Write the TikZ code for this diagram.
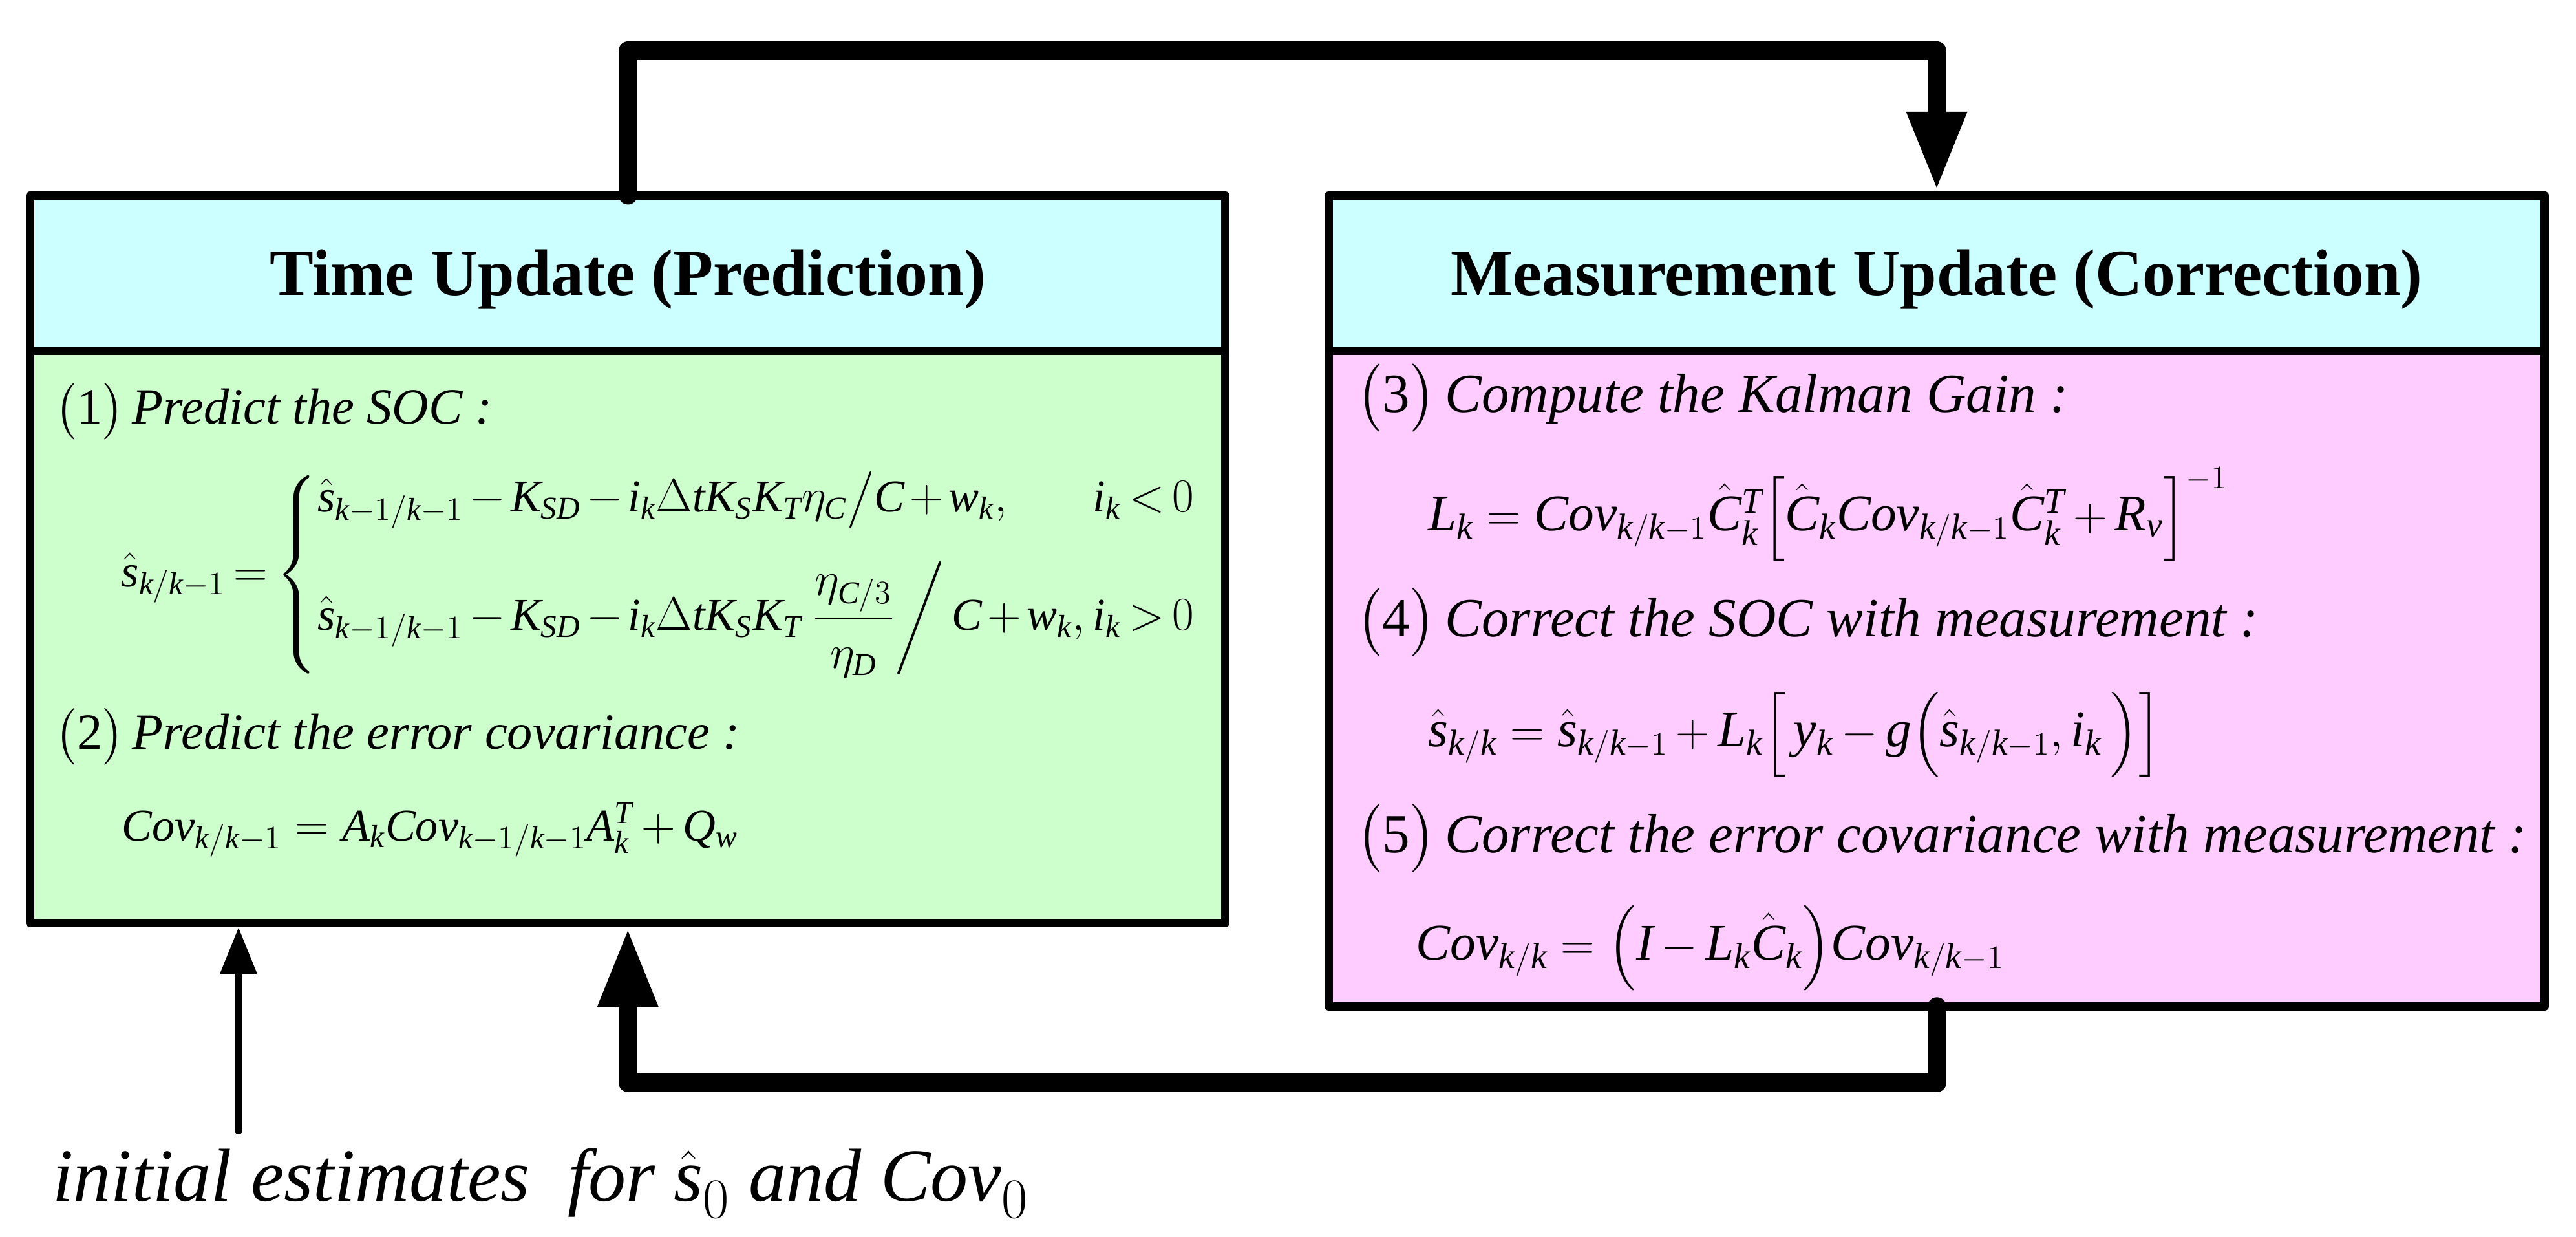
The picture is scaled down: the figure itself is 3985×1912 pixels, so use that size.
\documentclass[tikz,border=0pt]{standalone}
\usepackage{amsmath}
\usepackage{fontspec}
\setmainfont{Liberation Serif}[ItalicFont={Liberation Serif Italic},BoldFont={Liberation Serif Bold}]
\DeclareSymbolFont{tmit}{TU}{\rmdefault}{m}{it}
\DeclareSymbolFont{tmup}{TU}{\rmdefault}{m}{n}
\newcount\lcnt
\lcnt=65 \loop \Umathcode\lcnt="7 \symtmit \lcnt \advance\lcnt 1 \ifnum\lcnt<91 \repeat
\lcnt=97 \loop \Umathcode\lcnt="7 \symtmit \lcnt \advance\lcnt 1 \ifnum\lcnt<123 \repeat
\lcnt=48 \loop \Umathcode\lcnt="7 \symtmup \lcnt \advance\lcnt 1 \ifnum\lcnt<58 \repeat
\medmuskip=3mu plus 1mu minus 1mu\relax
\usetikzlibrary{arrows.meta}
\definecolor{hdrc}{HTML}{CCFFFF}
\definecolor{grnc}{HTML}{CCFFCC}
\definecolor{pnkc}{HTML}{FFCCFF}
\newcommand{\cv}{\mathit{Cov}}
\newcommand{\stepno}[1]{$\bigl($#1$\bigr)$\,}
\begin{document}
\begin{tikzpicture}[x=0.01cm,y=-0.01cm,
  boxst/.style={draw, line width=0.13cm, rectangle, inner sep=0pt, line join=round},
  ttl/.style={font=\fontsize{28.9}{34}\selectfont\bfseries, text height=0.813cm, text depth=0.142cm},
  txl/.style={anchor=base west, inner sep=0pt, font=\fontsize{22.3}{27}\selectfont},
  eql/.style={anchor=base west, inner sep=0pt, font=\fontsize{20}{24}\selectfont},
  txr/.style={anchor=base west, inner sep=0pt, font=\fontsize{24.2}{29}\selectfont},
  eqr/.style={anchor=base west, inner sep=0pt, font=\fontsize{22.6}{27}\selectfont},
  txi/.style={anchor=base west, inner sep=0pt, font=\fontsize{33}{39}\selectfont},
  bigarrow/.style={line width=0.29cm, line cap=round, line join=round, -{Triangle[length=1.23cm,width=0.85cm]}},
  thinarrow/.style={line width=0.12cm, line cap=round, -{Triangle[length=0.72cm,width=0.54cm]}}]
\useasboundingbox (0,0) rectangle (3985,1912);

% boxes
\node[boxst, fill=hdrc, minimum width=18.475cm, minimum height=2.405cm, ttl] (tuh) at (971.25,422.75) {Time Update (Prediction)};
\node[boxst, fill=grnc, minimum width=18.475cm, minimum height=8.84cm] (tub) at (971.25,985) {};
\node[boxst, fill=hdrc, minimum width=18.8cm, minimum height=2.405cm, ttl] (muh) at (2996,422.75) {Measurement Update (Correction)};
\node[boxst, fill=pnkc, minimum width=18.8cm, minimum height=10.13cm] (mub) at (2996,1049.5) {};

% left texts
\node[txl] (l1) at (85,655) {\stepno{1}\textit{Predict the SOC :}};
\node[eql] (leq1) at (187,907) {$\thickmuskip=3mu\relax\medmuskip=2mu\relax\hat{s}_{k/k-1}=\left\{\begin{array}{@{}l@{}l@{}}
\hat{s}_{k-1/k-1}-K_{SD}-i_k\Delta tK_SK_T\eta_C\big/C+w_k, & i_k<0\\[1.6ex]
\hat{s}_{k-1/k-1}-K_{SD}-i_k\Delta tK_SK_T\left.\dfrac{\eta_{C/3}\rule[-0.25em]{0pt}{0pt}}{\rule{0pt}{0.95em}\eta_D}\right/C+w_k,\; & i_k>0
\end{array}\right.$};
\node[txl] (l2) at (85,1158) {\stepno{2}\textit{Predict the error covariance :}};
\node[eql] (leq2) at (188,1300) {$\cv_{k/k-1}=A_k\cv_{k-1/k-1}A_k^T+Q_w$};

% right texts
\node[txr] (r3) at (2098,637) {\stepno{3}\textit{Compute the Kalman Gain :}};
\node[eqr] (req3) at (2209,820) {$L_k=\cv_{k/k-1}\hat{C}_k^T\Bigl[\hat{C}_k\cv_{k/k-1}\hat{C}_k^T+R_v\Bigr]^{-1}$};
\node[txr] (r4) at (2098,984) {\stepno{4}\textit{Correct the SOC with measurement :}};
\node[eqr] (req4) at (2209,1154) {$\hat{s}_{k/k}=\hat{s}_{k/k-1}+L_k\Bigl[\,y_k-g\Bigl(\hat{s}_{k/k-1},i_k\,\Bigr)\Bigr]$};
\node[txr] (r5) at (2098,1318) {\stepno{5}\textit{Correct the error covariance with measurement :}};
\node[eqr] (req5) at (2190,1484) {$\cv_{k/k}=\Bigl(I-L_k\hat{C}_k\Bigr)\cv_{k/k-1}$};

% initial estimates
\node[txi] (initxt) at (81,1857) {\textit{initial estimates\ \ for} $\hat{s}_0$ \textit{and} $\cv_0$};
\coordinate (ini) at (369,1748);
\coordinate (topy) at (0,72.5);
\coordinate (boty) at (0,1674);

% connectors
\draw[bigarrow] ([yshift=-0.06cm]tuh.north) -- ([yshift=-0.06cm]tuh.north |- topy) -| (muh.north);
\draw[bigarrow] ([yshift=0.06cm]mub.south) -- (mub.south |- boty) -| (tub.south);
\draw[thinarrow] (ini) -- (ini |- tub.south);
\end{tikzpicture}
\end{document}
